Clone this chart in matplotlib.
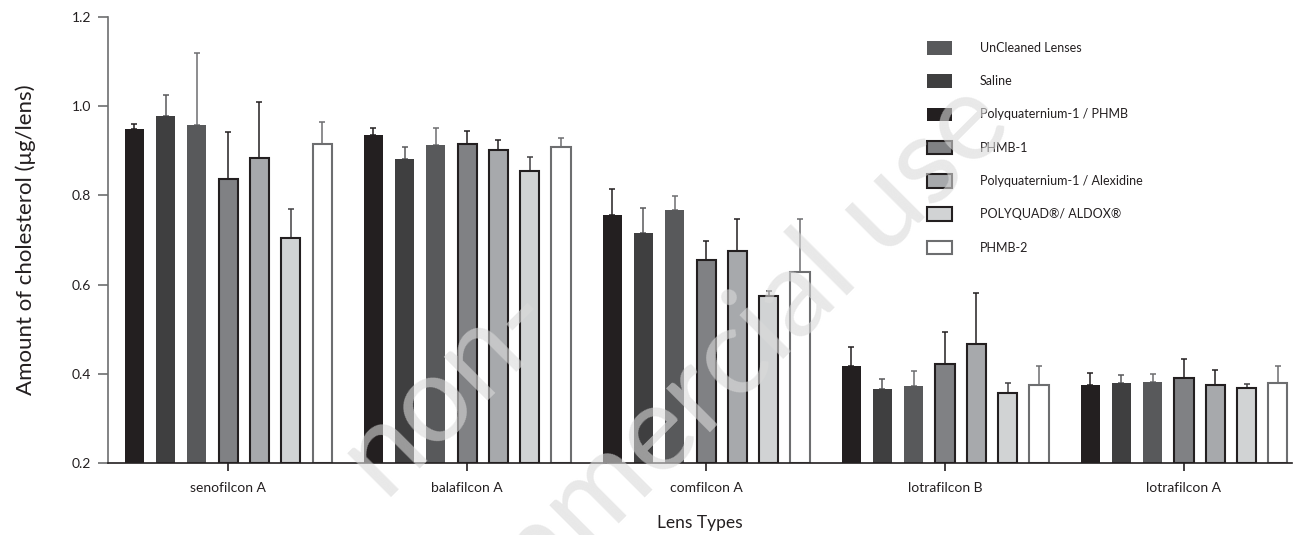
import numpy as np
import matplotlib.pyplot as plt

plt.rcParams['font.family'] = ['Lato', 'DejaVu Sans']

lenses = ['senofilcon A', 'balafilcon A', 'comfilcon A', 'lotrafilcon B', 'lotrafilcon A']

# series in legend order
labels = ['UnCleaned Lenses', 'Saline', 'Polyquaternium-1 / PHMB', 'PHMB-1',
          'Polyquaternium-1 / Alexidine', 'POLYQUAD®/ ALDOX®', 'PHMB-2']

uncleaned = [0.957, 0.913, 0.767, 0.372, 0.382]
uncleaned_sd = [0.163, 0.039, 0.032, 0.034, 0.018]
saline = [0.977, 0.881, 0.715, 0.365, 0.379]
saline_sd = [0.048, 0.027, 0.057, 0.024, 0.019]
pq_phmb = [0.948, 0.935, 0.755, 0.417, 0.376]
pq_phmb_sd = [0.013, 0.017, 0.060, 0.042, 0.025]
phmb1 = [0.836, 0.915, 0.656, 0.423, 0.391]
phmb1_sd = [0.107, 0.029, 0.042, 0.070, 0.042]
pq_alex = [0.884, 0.901, 0.676, 0.467, 0.375]
pq_alex_sd = [0.125, 0.023, 0.072, 0.115, 0.034]
polyquad = [0.704, 0.855, 0.574, 0.357, 0.369]
polyquad_sd = [0.066, 0.030, 0.012, 0.022, 0.009]
phmb2 = [0.915, 0.908, 0.628, 0.375, 0.379]
phmb2_sd = [0.050, 0.021, 0.120, 0.042, 0.038]

means = [uncleaned, saline, pq_phmb, phmb1, pq_alex, polyquad, phmb2]
sds = [uncleaned_sd, saline_sd, pq_phmb_sd, phmb1_sd, pq_alex_sd, polyquad_sd, phmb2_sd]

# slot of each series inside a group (left to right)
slot = [2, 1, 0, 3, 4, 5, 6]
fills = ['#58595b', '#3f3f40', '#231f20', '#808184', '#a7a9ac', '#d1d3d4', '#ffffff']
edges = [None, None, None, '#231f20', '#231f20', '#231f20', '#6d6e70']
ecols = ['#6d6e70', '#58595b', '#231f20', '#231f20', '#231f20', '#414042', '#6d6e70']

W, H = 1298, 535
fig = plt.figure(figsize=(W / 100, H / 100), dpi=100)
ax = fig.add_axes([108 / W, 1 - 463 / H, (1292 - 108) / W, (463 - 17) / H])

x = np.arange(len(lenses))
step = 0.131
width = 0.08
base = 0.2

handles = []
for i in range(len(labels)):
    xs = x + (slot[i] - 3) * step
    vals = np.array(means[i])
    if edges[i] is None:
        b = ax.bar(xs, vals - base, width, bottom=base, color=fills[i], linewidth=0, zorder=2)
    else:
        b = ax.bar(xs, vals - base, width, bottom=base, color=fills[i],
                   edgecolor=edges[i], linewidth=1.5, zorder=2)
    ax.errorbar(xs, vals, yerr=[np.zeros(len(vals)), sds[i]], fmt='none',
                ecolor=ecols[i], elinewidth=1.1, capsize=2.3, capthick=1.1, zorder=1)
    handles.append(b)

ax.set_xlim(-0.503, 4.452)
ax.set_ylim(0.2, 1.2)
ax.set_yticks([0.2, 0.4, 0.6, 0.8, 1.0, 1.2])
ax.set_yticklabels(['0.2', '0.4', '0.6', '0.8', '1.0', '1.2'])
ax.set_xticks(x)
ax.set_xticklabels(lenses)

for s in ['top', 'right']:
    ax.spines[s].set_visible(False)
ax.spines['left'].set_color('#6d6e70')
ax.spines['left'].set_linewidth(1.2)
ax.spines['bottom'].set_color('#231f20')
ax.spines['bottom'].set_linewidth(1.2)

ax.tick_params(axis='y', length=7, width=1.2, color='#6d6e70', pad=5,
               labelsize=10, labelcolor='#231f20')
ax.tick_params(axis='x', length=6, width=1.2, color='#231f20', pad=8,
               labelsize=10, labelcolor='#231f20')

ax.set_ylabel('Amount of cholesterol (μg/lens)', fontsize=16, color='#231f20', labelpad=26)
ax.set_xlabel('Lens Types', fontsize=12.5, color='#231f20', labelpad=15)

fig.legend(handles, labels, loc='upper left', bbox_to_anchor=(927 / W, 1 - 41 / H),
           frameon=False, fontsize=9, handlelength=2.0, handleheight=1.3,
           labelspacing=1.57, handletextpad=2.2, borderpad=0, borderaxespad=0,
           labelcolor='#231f20')

# faint diagonal watermark, two lines
wm = dict(fontsize=88, color='#dadada', alpha=0.6, rotation=45,
          rotation_mode='anchor', va='baseline', zorder=10)
fig.text(1015 / W, 1 - 128 / H, 'commercial use', ha='right', **wm)
fig.text(560 / W, 1 - 320 / H, 'non-', ha='right', **wm)

fig.savefig('out.png', dpi=100)
